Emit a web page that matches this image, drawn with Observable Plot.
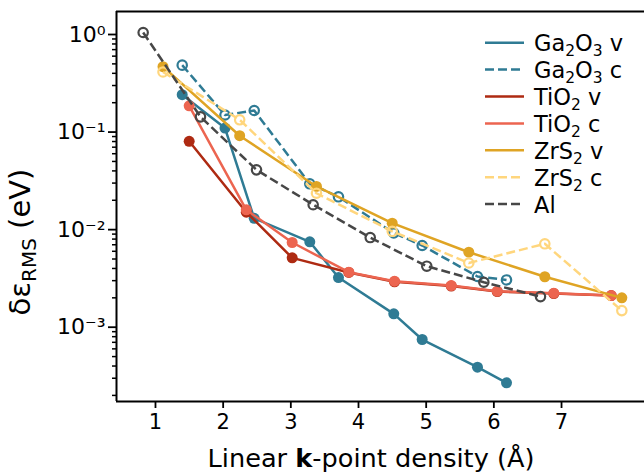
<!DOCTYPE html>
<html>
<head>
<meta charset="utf-8">
<script src="https://cdn.jsdelivr.net/npm/d3@7"></script>
<script src="https://cdn.jsdelivr.net/npm/@observablehq/plot@0.6"></script>
<style>
  html, body { margin: 0; padding: 0; background: white; }
  #chart { width: 644px; height: 473px; overflow: hidden; }
</style>
</head>
<body>
<div id="chart"></div>
<script>
// ---- data ----
const densityGa = [1.395, 2.027, 2.459, 3.280, 3.704, 4.521, 4.941, 5.758, 6.187];
const ga2o3V = [0.2415, 0.110, 0.01306, 0.00750, 0.00323, 0.00137, 0.000748, 0.000389, 0.000269];
const ga2o3C = [0.485, 0.1496, 0.1664, 0.0295, 0.0217, 0.00924, 0.00688, 0.00331, 0.00305];

const densityTi = [1.498, 2.342, 3.020, 3.857, 4.532, 5.370, 6.050, 6.886, 7.734];
const tio2V = [0.0804, 0.0151, 0.00514, 0.00364, 0.00292, 0.00264, 0.00232, 0.00221, 0.00211];
const tio2C = [0.186, 0.01596, 0.00738, 0.00366, 0.00296, 0.00267, 0.00234, 0.00223, 0.00211];

const densityZr = [1.111, 2.244, 3.379, 4.498, 5.630, 6.753, 7.891];
const zrs2V = [0.468, 0.0918, 0.0277, 0.01164, 0.00587, 0.00329, 0.00200];
const zrs2C = [0.413, 0.1336, 0.0236, 0.00962, 0.00455, 0.00716, 0.00148];

const densityAl = [0.818, 1.665, 2.493, 3.330, 4.173, 5.009, 5.852, 6.689];
const alC = [1.048, 0.1433, 0.0410, 0.0180, 0.00830, 0.00422, 0.00289, 0.00206];

const seriesNames = ["Ga2O3 v", "Ga2O3 c", "TiO2 v", "TiO2 c", "ZrS2 v", "ZrS2 c", "Al"];
const xTicks = [1, 2, 3, 4, 5, 6, 7];
const yMajorTicks = [1e-3, 1e-2, 1e-1, 1];

// ---- styles ----
const TEAL = "#2f7b94", DARKRED = "#ae2a12", SALMON = "#ec6550",
      GOLD = "#dfa424", LIGHTYELLOW = "#ffd67d", GRAY = "#474747";

const series = [
  {name: seriesNames[0], xs: densityGa, ys: ga2o3V, color: TEAL, dashed: false, open: false},
  {name: seriesNames[1], xs: densityGa, ys: ga2o3C, color: TEAL, dashed: true, open: true},
  {name: seriesNames[2], xs: densityTi, ys: tio2V, color: DARKRED, dashed: false, open: false},
  {name: seriesNames[3], xs: densityTi, ys: tio2C, color: SALMON, dashed: false, open: false},
  {name: seriesNames[4], xs: densityZr, ys: zrs2V, color: GOLD, dashed: false, open: false},
  {name: seriesNames[5], xs: densityZr, ys: zrs2C, color: LIGHTYELLOW, dashed: true, open: true},
  {name: seriesNames[6], xs: densityAl, ys: alC, color: GRAY, dashed: true, open: true}
];

const xDomain = [0.424, 8.226];
const yDomain = [1.732e-4, 1.721];

const yMinorTicks = [];
for (let e = -4; e <= 0; e++) for (let m = 2; m <= 9; m++) {
  const v = m * Math.pow(10, e);
  if (v >= yDomain[0] && v <= yDomain[1]) yMinorTicks.push(v);
}

const supMap = {"-": "\u207B", "0": "\u2070", "1": "\u00B9", "2": "\u00B2", "3": "\u00B3", "4": "\u2074"};
const supFormat = d => "10" + String(Math.round(Math.log10(d))).split("").map(c => supMap[c]).join("");

const marks = [];
for (const s of series) {
  const data = s.xs.map((x, i) => ({x, y: s.ys[i]}));
  marks.push(Plot.line(data, {
    x: "x", y: "y", stroke: s.color, strokeWidth: 2.5,
    strokeDasharray: s.dashed ? "9,4" : null, strokeLinecap: "butt"
  }));
  marks.push(Plot.dot(data, s.open
    ? {x: "x", y: "y", r: 4.7, fill: "none", stroke: s.color, strokeWidth: 2.2}
    : {x: "x", y: "y", r: 5.5, fill: s.color, stroke: "none"}));
}

const plot = Plot.plot({
  width: 644,
  height: 473,
  marginLeft: 116,
  marginRight: 0,
  marginTop: 11,
  marginBottom: 72,
  x: {domain: xDomain},
  y: {type: "log", domain: yDomain},
  style: {fontFamily: "DejaVu Sans", fontSize: "21px", color: "black", background: "white"},
  marks: [
    Plot.axisX(xTicks, {tickSize: 7, tickPadding: 6, strokeWidth: 1.8, fontSize: 21, label: null, tickFormat: d => String(d)}),
    Plot.axisY(yMinorTicks, {tickSize: 4, strokeWidth: 1.5, tickFormat: () => "", label: null}),
    Plot.axisY(yMajorTicks, {tickSize: 8, tickPadding: 3, strokeWidth: 1.8, fontSize: 22, tickFormat: supFormat, label: null}),
    ...marks,
    Plot.ruleY([yDomain[1]], {stroke: "black", strokeWidth: 2}),
    Plot.ruleY([yDomain[0]], {stroke: "black", strokeWidth: 2}),
    Plot.ruleX([xDomain[0]], {stroke: "black", strokeWidth: 2})
  ]
});

document.getElementById("chart").appendChild(plot);

// ---- axis labels & legend ----
const svg = d3.select(plot);
const font = "DejaVu Sans";

// x label with bold k
const xl = svg.append("text")
  .attr("x", 371).attr("y", 467)
  .attr("text-anchor", "middle")
  .attr("font-family", font).attr("font-size", 25.6).attr("fill", "black");
xl.append("tspan").text("Linear ");
xl.append("tspan").attr("font-weight", "bold").text("k");
xl.append("tspan").text("-point density (\u00C5)");

// y label
const yl = svg.append("text")
  .attr("transform", "translate(30,242) rotate(-90)")
  .attr("text-anchor", "middle")
  .attr("font-family", font).attr("font-size", 29).attr("fill", "black");
yl.append("tspan").text("\u03B4\u03B5");
yl.append("tspan").attr("font-size", 20).attr("dy", 6).text("RMS");
yl.append("tspan").attr("dy", -6).text(" (eV)");

// legend
const legendRowY0 = 42.7, legendRowStep = 26.9;
series.forEach((s, i) => {
  const y = legendRowY0 + i * legendRowStep;
  svg.append("line")
    .attr("x1", 485).attr("x2", 524).attr("y1", y).attr("y2", y)
    .attr("stroke", s.color).attr("stroke-width", 2.5)
    .attr("stroke-dasharray", s.dashed ? "9,4" : null);
  const t = svg.append("text")
    .attr("x", 534).attr("y", y + 8.5)
    .attr("text-anchor", "start")
    .attr("font-family", font).attr("font-size", 22.5).attr("fill", "black");
  const parts = s.name.match(/\d+|\D+/g);
  let sub = false;
  for (const p of parts) {
    if (/^\d+$/.test(p)) {
      t.append("tspan").attr("font-size", 15.5).attr("dy", sub ? 0 : 5).text(p);
      sub = true;
    } else {
      t.append("tspan").attr("dy", sub ? -5 : 0).text(p);
      sub = false;
    }
  }
});
</script>
</body>
</html>
